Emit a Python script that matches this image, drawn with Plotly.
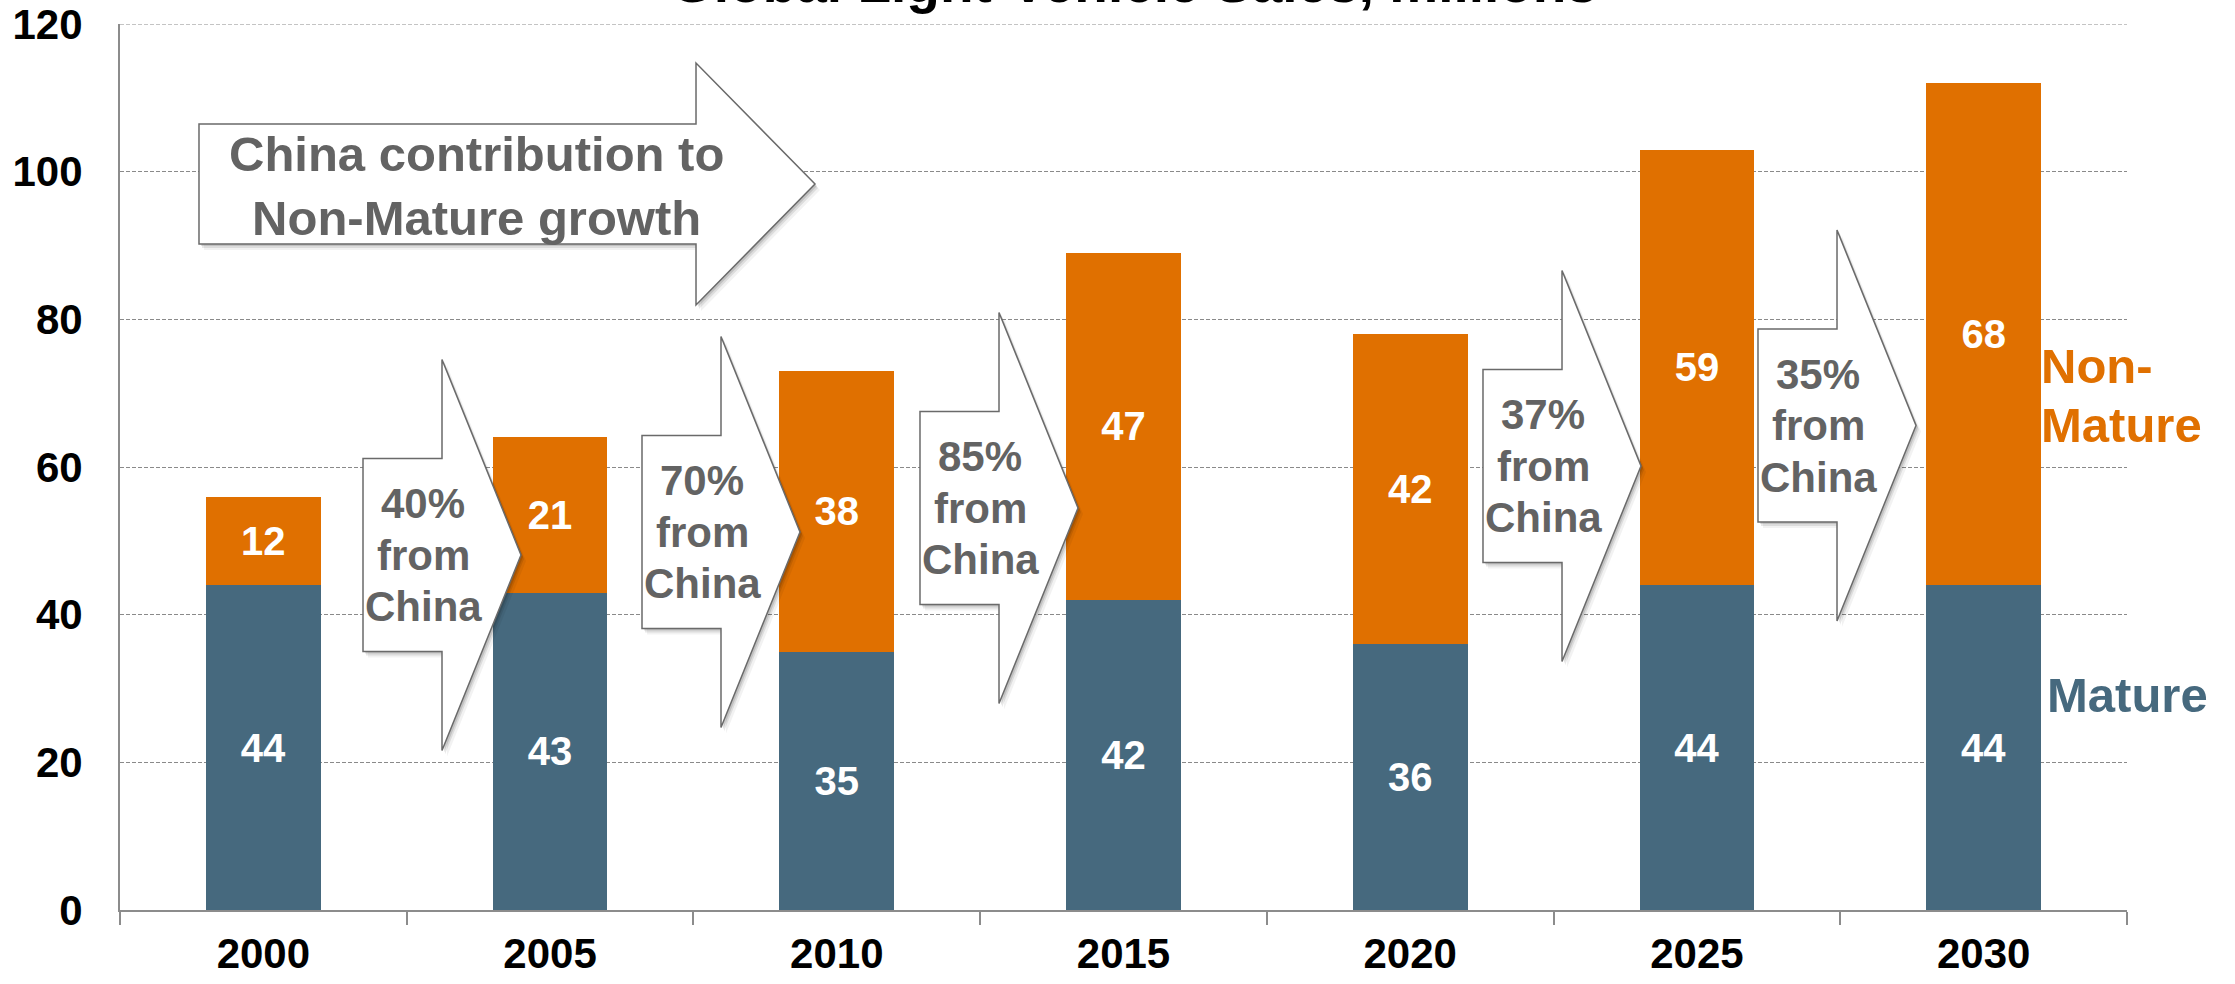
import plotly.graph_objects as go

# Global light-vehicle sales (millions), split into mature and non-mature markets
years = ["2000", "2005", "2010", "2015", "2020", "2025", "2030"]
mature = [44, 43, 35, 42, 36, 44, 44]
non_mature = [12, 21, 38, 47, 42, 59, 68]

# China's share of non-mature growth between consecutive periods
china_share = [40, 70, 85, 37, 35]

TITLE = "Global Light-Vehicle Sales, millions"
CALLOUT = "China contribution to<br>Non-Mature growth"

# ---- figure geometry (pixels) ----
W, H = 2235, 984
PLOT_L, PLOT_R, PLOT_T, PLOT_B = 120, 2127, 24, 910
Y_MAX = 120

BLUE = "#46697E"
ORANGE = "#E07000"
GREY_TXT = "#636363"
AXIS_GREY = "#8C8C8C"
GRID_GREY = "#8A8A8A"
FONT = "Liberation Sans, Arial, sans-serif"


def px(x):
    return (x - PLOT_L) / (PLOT_R - PLOT_L)


def py(y):
    return (PLOT_B - y) / (PLOT_B - PLOT_T)


def arrow_path(left, shaft_end, tip, cy, body_half, head_half, dx=0, dy=0):
    pts = [
        (left, cy - body_half), (shaft_end, cy - body_half), (shaft_end, cy - head_half),
        (tip, cy), (shaft_end, cy + head_half), (shaft_end, cy + body_half),
        (left, cy + body_half),
    ]
    d = " L ".join(f"{px(x + dx):.5f},{py(y + dy):.5f}" for x, y in pts)
    return "M " + d + " Z"


fig = go.Figure()
fig.add_trace(go.Bar(
    x=years, y=mature, name="Mature", marker=dict(color=BLUE, line=dict(width=0)),
    texttemplate="%{y}", textposition="inside", insidetextanchor="middle",
    textfont=dict(family=FONT, size=40, color="white", weight="bold"),
    constraintext="none", hoverinfo="skip",
))
fig.add_trace(go.Bar(
    x=years, y=non_mature, name="Non-Mature", marker=dict(color=ORANGE, line=dict(width=0)),
    texttemplate="%{y}", textposition="inside", insidetextanchor="middle",
    textfont=dict(family=FONT, size=40, color="white", weight="bold"),
    constraintext="none", hoverinfo="skip",
))

# dashed gridline along the top edge of the plot area
shapes = [dict(type="line", xref="paper", yref="y", x0=0, x1=1, y0=Y_MAX, y1=Y_MAX,
               line=dict(color=GRID_GREY, width=1.2, dash="4px,2px"), layer="below")]
annotations = []


def add_arrow(left, shaft_end, tip, cy, body_half, head_half):
    for (dx, dy, a) in [(5, 6, 0.05), (3, 4, 0.09), (2, 2, 0.12)]:
        shapes.append(dict(type="path", xref="paper", yref="paper",
                           path=arrow_path(left, shaft_end, tip, cy, body_half, head_half, dx, dy),
                           fillcolor=f"rgba(0,0,0,{a})", line=dict(width=0), layer="above"))
    shapes.append(dict(type="path", xref="paper", yref="paper",
                       path=arrow_path(left, shaft_end, tip, cy, body_half, head_half),
                       fillcolor="white", line=dict(color="#6A6A6A", width=1.5), layer="above"))


# Large callout arrow
add_arrow(199, 696, 815, 184, 60, 121)
annotations.append(dict(
    text=CALLOUT, xref="paper", yref="paper", x=px(476), y=py(186),
    xanchor="center", yanchor="middle", showarrow=False, align="center",
    font=dict(family=FONT, size=49, color=GREY_TXT, weight="bold"),
))

# Small arrows between periods: left edge (px) and vertical centre (px)
arrow_left = [363, 642, 920, 1483, 1758]
arrow_cy = [555, 532, 508, 466, 425.5]
LINE_GAP = 51.5
for share, left, cy in zip(china_share, arrow_left, arrow_cy):
    add_arrow(left, left + 79, left + 158, cy, 96.5, 195.5)
    for k, line in enumerate([f"{share}%", "from", "China"]):
        annotations.append(dict(
            text=line, xref="paper", yref="paper", x=px(left + 60), y=py(cy + (k - 1) * LINE_GAP),
            xanchor="center", yanchor="middle", showarrow=False,
            font=dict(family=FONT, size=42, color=GREY_TXT, weight="bold"),
        ))

# Series labels at the right
annotations += [
    dict(text="Non-", xref="paper", yref="paper", x=px(2039), y=py(365.5), xanchor="left",
         yanchor="middle", showarrow=False, font=dict(family=FONT, size=49, color=ORANGE, weight="bold")),
    dict(text="Mature", xref="paper", yref="paper", x=px(2039), y=py(424.5), xanchor="left",
         yanchor="middle", showarrow=False, font=dict(family=FONT, size=49, color=ORANGE, weight="bold")),
    dict(text="Mature", xref="paper", yref="paper", x=px(2045), y=py(695), xanchor="left",
         yanchor="middle", showarrow=False, font=dict(family=FONT, size=49, color=BLUE, weight="bold")),
]

# Title (runs off the top edge)
annotations.append(dict(
    text=TITLE, xref="paper", yref="paper", x=px(1134), y=py(-16.5),
    xanchor="center", yanchor="middle", showarrow=False,
    font=dict(family=FONT, size=55, color="black", weight="bold"),
))

fig.update_layout(
    width=W, height=H, autosize=False,
    margin=dict(l=PLOT_L, r=W - PLOT_R, t=PLOT_T, b=H - PLOT_B, pad=0),
    barmode="stack", bargap=0.6,
    plot_bgcolor="white", paper_bgcolor="white",
    showlegend=False,
    shapes=shapes, annotations=annotations,
    font=dict(family=FONT),
)
fig.update_xaxes(
    type="category", showgrid=False, showline=True, linecolor=AXIS_GREY, linewidth=2,
    ticks="outside", tickson="boundaries", ticklen=13, tickwidth=1.5, tickcolor=AXIS_GREY,
    tickfont=dict(family=FONT, size=42, color="black", weight="bold"),
    ticklabelstandoff=6, automargin=False,
)
fig.update_yaxes(
    range=[0, Y_MAX], dtick=20, showgrid=True, gridcolor=GRID_GREY, gridwidth=1.2,
    griddash="4px,2px", zeroline=False, showline=True, linecolor=AXIS_GREY, linewidth=2,
    ticks="", tickfont=dict(family=FONT, size=42, color="black", weight="bold"),
    ticklabelstandoff=27, automargin=False,
)

fig.write_html("out.html")
